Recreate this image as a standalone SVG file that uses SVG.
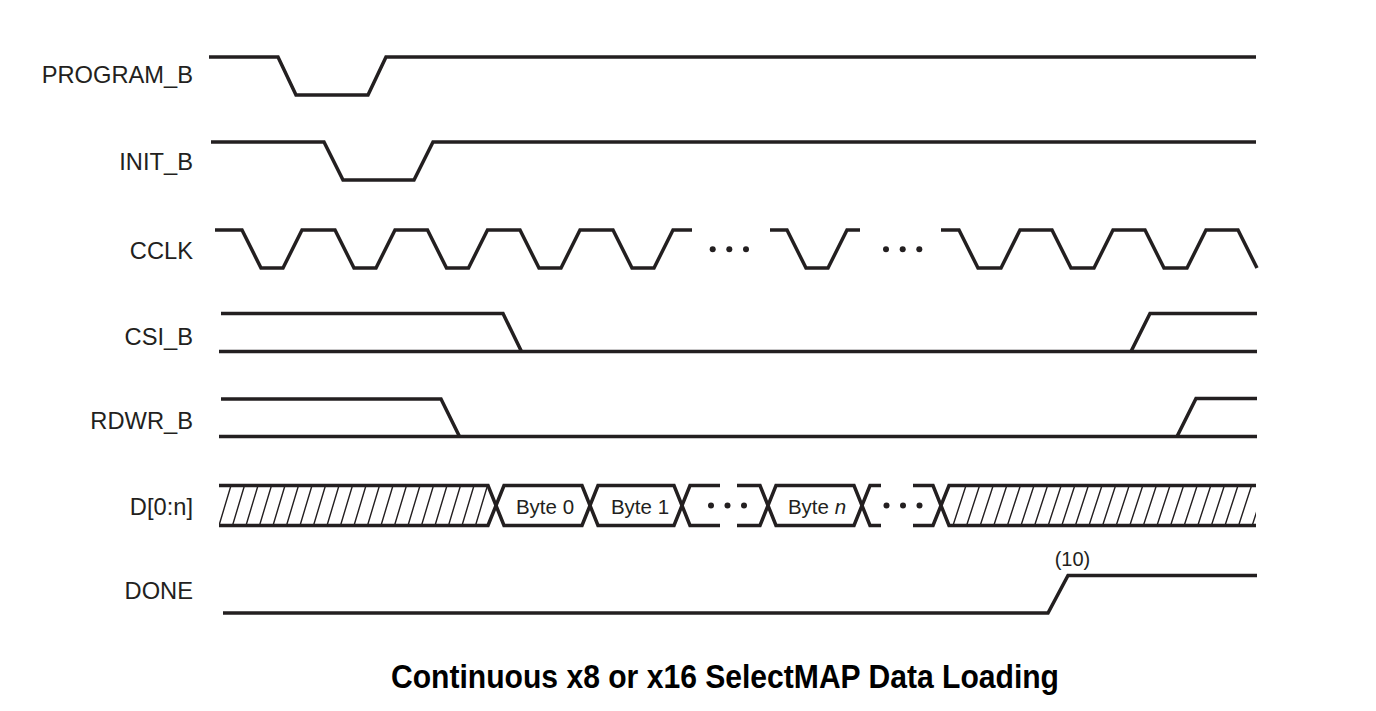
<svg xmlns="http://www.w3.org/2000/svg" width="1376" height="711" viewBox="0 0 1376 711">
<style>
.w{fill:none;stroke:#231f20;stroke-width:3.5;stroke-linejoin:miter;stroke-linecap:butt}
.h{fill:none;stroke:#231f20;stroke-width:1.4}
.lbl{font-family:"Liberation Sans",Arial,sans-serif;font-size:23.7px;fill:#231f20;text-anchor:end}
.byte{font-family:"Liberation Sans",Arial,sans-serif;font-size:20.5px;fill:#231f20;text-anchor:middle}
.dot{fill:#231f20}
.title{font-family:"Liberation Sans",Arial,sans-serif;font-size:34px;font-weight:bold;fill:#000;text-anchor:middle}
</style>
<defs>
<clipPath id="hl"><polygon points="219,485.5 488,485.5 496,505.5 488,525.5 219,525.5"/></clipPath>
<clipPath id="hr"><polygon points="949,485.5 1256,485.5 1256,525.5 949,525.5 941,505.5"/></clipPath>
</defs>
<rect width="1376" height="711" fill="#fff"/>

<g id="program_b">
<text class="lbl" x="193" y="83">PROGRAM_B</text>
<path class="w" d="M209,57 H278 L296,95 H368 L386,57 H1256"/>
</g>

<g id="init_b">
<text class="lbl" x="193" y="170">INIT_B</text>
<path class="w" d="M211,142 H324 L343,180 H414 L433,142 H1256"/>
</g>

<g id="cclk">
<text class="lbl" x="193" y="259">CCLK</text>
<path class="w" d="M215,230 H242 L261,268 H283 L302,230 H335 L354,268 H376 L395,230 H427.5 L446.5,268 H468.5 L487.5,230 H520 L539,268 H561 L580,230 H613 L632,268 H654 L673,230 H692"/>
<path class="w" d="M770,230 H787 L806,268 H828 L847,230 H860"/>
<path class="w" d="M941,230 H959 L978,268 H1001 L1020,230 H1052 L1071,268 H1094 L1113,230 H1145 L1164,268 H1187 L1206,230 H1238 L1257,268"/>
<circle class="dot" cx="712.7" cy="249.3" r="3"/>
<circle class="dot" cx="729.3" cy="249.3" r="3"/>
<circle class="dot" cx="746" cy="249.3" r="3"/>
<circle class="dot" cx="886" cy="249.3" r="3"/>
<circle class="dot" cx="902.7" cy="249.3" r="3"/>
<circle class="dot" cx="919.3" cy="249.3" r="3"/>
</g>

<g id="csi_b">
<text class="lbl" x="193" y="345">CSI_B</text>
<path class="w" d="M221,313.5 H503 L521.5,351.5"/>
<path class="w" d="M219,351.5 H1257"/>
<path class="w" d="M1131,351.5 L1150,313.5 H1257"/>
</g>

<g id="rdwr_b">
<text class="lbl" x="193" y="429">RDWR_B</text>
<path class="w" d="M221,399 H441 L459.5,436.5"/>
<path class="w" d="M219,436.5 H1257"/>
<path class="w" d="M1177,436.5 L1196,398.5 H1257"/>
</g>

<g id="data">
<text class="lbl" x="193" y="515">D[0:n]</text>
<g clip-path="url(#hl)">
<path class="h" d="M219,525.5 L231,485.5 M232.5,525.5 L244.5,485.5 M246,525.5 L258,485.5 M259.5,525.5 L271.5,485.5 M273,525.5 L285,485.5 M286.5,525.5 L298.5,485.5 M300,525.5 L312,485.5 M313.5,525.5 L325.5,485.5 M327,525.5 L339,485.5 M340.5,525.5 L352.5,485.5 M354,525.5 L366,485.5 M367.5,525.5 L379.5,485.5 M381,525.5 L393,485.5 M394.5,525.5 L406.5,485.5 M408,525.5 L420,485.5 M421.5,525.5 L433.5,485.5 M435,525.5 L447,485.5 M448.5,525.5 L460.5,485.5 M462,525.5 L474,485.5 M475.5,525.5 L487.5,485.5"/>
</g>
<g clip-path="url(#hr)">
<path class="h" d="M953,525.5 L966,485.5 M966.6,525.5 L979.6,485.5 M980.2,525.5 L993.2,485.5 M993.8,525.5 L1006.8,485.5 M1007.4,525.5 L1020.4,485.5 M1021,525.5 L1034,485.5 M1034.6,525.5 L1047.6,485.5 M1048.2,525.5 L1061.2,485.5 M1061.8,525.5 L1074.8,485.5 M1075.4,525.5 L1088.4,485.5 M1089,525.5 L1102,485.5 M1102.6,525.5 L1115.6,485.5 M1116.2,525.5 L1129.2,485.5 M1129.8,525.5 L1142.8,485.5 M1143.4,525.5 L1156.4,485.5 M1157,525.5 L1170,485.5 M1170.6,525.5 L1183.6,485.5 M1184.2,525.5 L1197.2,485.5 M1197.8,525.5 L1210.8,485.5 M1211.4,525.5 L1224.4,485.5 M1225,525.5 L1238,485.5 M1238.6,525.5 L1251.6,485.5 M1252.2,525.5 L1265.2,485.5"/>
</g>
<path class="w" d="M219,485.5 H488 L504,525.5 H582 L598,485.5 H674 L690,525.5 H720"/>
<path class="w" d="M219,525.5 H488 L504,485.5 H582 L598,525.5 H674 L690,485.5 H720"/>
<path class="w" d="M737,485.5 H760 L776,525.5 H854 L870,485.5 H881"/>
<path class="w" d="M737,525.5 H760 L776,485.5 H854 L870,525.5 H881"/>
<path class="w" d="M913,485.5 H933 L949,525.5 H1256"/>
<path class="w" d="M913,525.5 H933 L949,485.5 H1256"/>
<circle class="dot" cx="711" cy="505.5" r="3"/>
<circle class="dot" cx="727.5" cy="505.5" r="3"/>
<circle class="dot" cx="744" cy="505.5" r="3"/>
<circle class="dot" cx="886.5" cy="505.5" r="3"/>
<circle class="dot" cx="903" cy="505.5" r="3"/>
<circle class="dot" cx="919.5" cy="505.5" r="3"/>
<text class="byte" x="545" y="513.5">Byte 0</text>
<text class="byte" x="640" y="513.5">Byte 1</text>
<text class="byte" x="817" y="513.5">Byte <tspan font-style="italic">n</tspan></text>
</g>

<g id="done">
<text class="lbl" x="193" y="599">DONE</text>
<path class="w" d="M223,613 H1048 L1068,575.5 H1257"/>
<text class="byte" x="1072.5" y="566" style="font-size:20px">(10)</text>
</g>

<text class="title" x="725" y="688" textLength="668" lengthAdjust="spacingAndGlyphs">Continuous x8 or x16 SelectMAP Data Loading</text>
</svg>
